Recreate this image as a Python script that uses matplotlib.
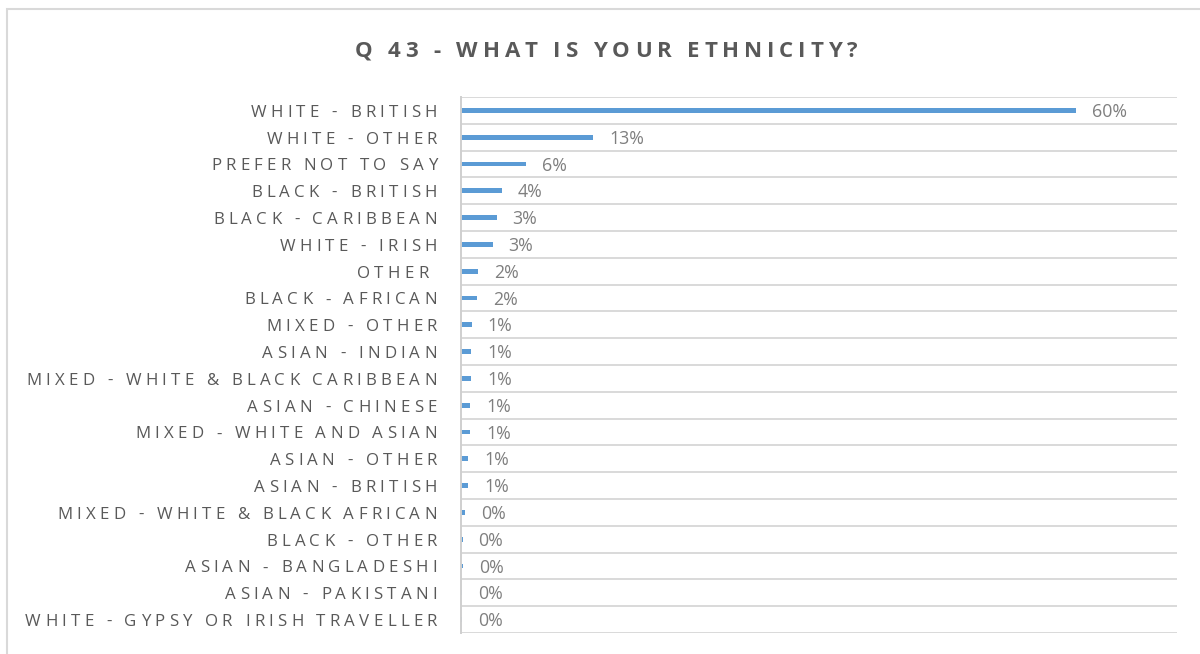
import matplotlib
matplotlib.use("Agg")
import matplotlib.pyplot as plt
from matplotlib.font_manager import FontProperties, findfont, get_font
from matplotlib.patches import Rectangle

# survey answers, top to bottom as shown in the chart (percent of respondents)
categories = [
    "WHITE - BRITISH",
    "WHITE - OTHER",
    "PREFER NOT TO SAY",
    "BLACK - BRITISH",
    "BLACK - CARIBBEAN",
    "WHITE - IRISH",
    "OTHER ",
    "BLACK - AFRICAN",
    "MIXED - OTHER",
    "ASIAN - INDIAN",
    "MIXED - WHITE & BLACK CARIBBEAN",
    "ASIAN - CHINESE",
    "MIXED - WHITE AND ASIAN",
    "ASIAN - OTHER",
    "ASIAN - BRITISH",
    "MIXED - WHITE & BLACK AFRICAN",
    "BLACK - OTHER",
    "ASIAN - BANGLADESHI",
    "ASIAN - PAKISTANI",
    "WHITE - GYPSY OR IRISH TRAVELLER",
]
values = [60.1, 12.9, 6.35, 3.98, 3.49, 3.10, 1.63, 1.55, 1.04, 0.98,
          0.98, 0.88, 0.88, 0.72, 0.72, 0.36, 0.16, 0.18, 0.12, 0.10]
title = "Q 43 - WHAT IS YOUR ETHNICITY?"

W, H, DPI = 1200, 654, 100
BAR_COLOR = "#5B9BD5"
GRID_COLOR = "#d9d9d9"
TEXT_COLOR = "#595959"
LABEL_COLOR = "#7f7f7f"


def advances(s, fp):
    """Advance width (px) of every character of s."""
    font = get_font(findfont(fp))
    font.set_size(fp.get_size_in_points(), DPI)
    return [font.load_char(ord(c)).linearHoriAdvance / 65536 for c in s]


def spaced_text(fig, s, x, y, fp, spacing, ha, color):
    """Draw letter-spaced text; x, y in pixels (y = baseline, from bottom)."""
    adv = advances(s, fp)
    total = sum(adv) + spacing * (len(s) - 1)
    x0 = x - total if ha == "right" else x - total / 2
    for c, a in zip(s, adv):
        if c != " ":
            fig.text(x0 / W, y / H, c, fontproperties=fp, color=color,
                     ha="left", va="baseline")
        x0 += a + spacing


fig = plt.figure(figsize=(W / DPI, H / DPI), dpi=DPI)

# plot area in pixels: left 461, right 1177, top 97, bottom 633
ax = fig.add_axes([461 / W, 1 - 633 / H, (1177 - 461) / W, (633 - 97) / H])

n = len(categories)
pos = list(range(n))
ax.barh(pos, values, height=0.18, color=BAR_COLOR)
ax.set_xlim(0, 70)
ax.set_ylim(n - 0.5, -0.5)

# row separators
ax.set_yticks([i - 0.5 for i in range(n + 1)], minor=True)
ax.set_yticks([])
ax.set_xticks([])
ax.tick_params(which="both", length=0)
ax.grid(True, which="minor", axis="y", color=GRID_COLOR, linewidth=1.4)
ax.set_axisbelow(True)
for side in ["top", "right", "bottom"]:
    ax.spines[side].set_visible(False)
ax.spines["left"].set_color("#cfcfcf")
ax.spines["left"].set_linewidth(1.4)

# value labels
for p, v in zip(pos, values):
    ax.annotate(f"{round(v):d}%", (v, p), xytext=(11.5, -4.8),
                textcoords="offset points", ha="left", va="baseline",
                fontsize=12.8, family="Open Sans", color=LABEL_COLOR)

# letter-spaced category labels
cat_fp = FontProperties(family="Open Sans", size=12.2)
for p, c in zip(pos, categories):
    yc = ax.transData.transform((0, p))[1]
    spaced_text(fig, c, 437, yc - 6.5, cat_fp, 4.2, "right", TEXT_COLOR)

# title
title_fp = FontProperties(family="Open Sans", weight="bold", size=16)
spaced_text(fig, title, 606, H - 56.7, title_fp, 4.9, "center", TEXT_COLOR)

# chart border (only left and top edges fall inside the picture)
fig.add_artist(Rectangle((6.5 / W, -0.05), 1.1, 1 - 9 / H + 0.05,
                         transform=fig.transFigure, fill=False,
                         edgecolor=GRID_COLOR, linewidth=1.5))

fig.savefig("out.png", dpi=DPI)
